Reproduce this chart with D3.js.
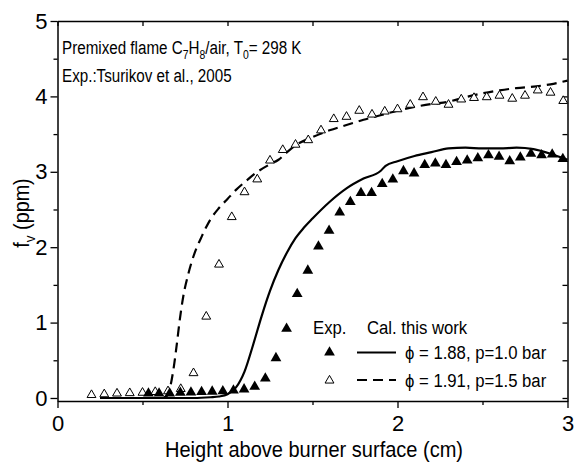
<!DOCTYPE html>
<html><head><meta charset="utf-8">
<script src="https://cdn.jsdelivr.net/npm/d3@7"></script>
<style>body{margin:0;background:#fff;}svg{display:block;font-family:"Liberation Sans",Arial,sans-serif;}</style>
</head><body><svg id="c" width="574" height="463"></svg>
<script>
// Experimental data, phi=1.88, p=1.0 bar (filled triangles)
const expFilledX = [0.535,0.5975,0.66,0.7225,0.785,0.8475,0.91,0.9725,1.035,1.0975,1.16,1.2225,1.285,1.3475,1.41,1.4725,1.535,1.5975,1.66,1.7225,1.785,1.8475,1.91,1.9725,2.035,2.0975,2.16,2.2225,2.285,2.3475,2.41,2.4725,2.535,2.5975,2.66,2.7225,2.785,2.8475,2.91,2.9725];
const expFilledY = [0.06,0.06,0.06,0.07,0.075,0.08,0.085,0.09,0.10,0.115,0.15,0.26,0.53,0.92,1.38,1.69,2.01,2.22,2.46,2.60,2.72,2.72,2.84,2.90,3.01,2.98,3.09,3.11,3.09,3.13,3.15,3.18,3.22,3.20,3.14,3.19,3.24,3.22,3.23,3.17];
// Experimental data, phi=1.91, p=1.5 bar (open triangles)
const expOpenX = [0.2,0.275,0.35,0.425,0.5,0.575,0.65,0.725,0.8,0.875,0.95,1.025,1.1,1.175,1.25,1.325,1.4,1.475,1.55,1.625,1.7,1.775,1.85,1.925,2.0,2.075,2.15,2.225,2.3,2.375,2.45,2.525,2.6,2.675,2.75,2.825,2.9,2.975];
const expOpenY = [0.04,0.05,0.06,0.065,0.07,0.08,0.09,0.12,0.33,1.08,1.77,2.40,2.73,2.90,3.15,3.29,3.36,3.42,3.55,3.70,3.73,3.81,3.76,3.80,3.83,3.89,3.99,3.93,3.89,3.96,3.98,3.99,4.01,3.97,4.01,4.08,4.05,3.94];
// Calculation, phi=1.88 (solid)
const calSolidX = [0.25,0.5,0.8,0.9,0.95,1.0,1.05,1.1,1.15,1.2,1.25,1.3,1.35,1.4,1.45,1.5,1.6,1.7,1.8,1.9,1.93,2.0,2.1,2.2,2.3,2.4,2.5,2.6,2.7,2.8,2.9,3.0];
const calSolidY = [0,0,0,0.01,0.02,0.05,0.14,0.35,0.70,1.08,1.42,1.70,1.93,2.12,2.26,2.38,2.60,2.78,2.91,3.01,3.08,3.14,3.21,3.26,3.31,3.32,3.31,3.31,3.32,3.30,3.24,3.16];
// Calculation, phi=1.91 (dashed)
const calDashX = [0.25,0.6,0.64,0.66,0.68,0.70,0.72,0.74,0.77,0.80,0.85,0.90,0.95,1.0,1.05,1.1,1.17,1.25,1.3,1.35,1.4,1.5,1.6,1.7,1.8,1.9,2.0,2.1,2.2,2.3,2.4,2.5,2.6,2.7,2.8,2.9,3.0];
const calDashY = [0,0,0.02,0.12,0.35,0.68,1.05,1.35,1.65,1.88,2.15,2.37,2.52,2.64,2.76,2.86,2.99,3.10,3.16,3.26,3.35,3.46,3.55,3.62,3.69,3.75,3.81,3.86,3.90,3.93,3.99,4.04,4.08,4.11,4.13,4.16,4.21];
const xTicks = [0,1,2,3];
const xMinor = [0.5,1.5,2.5];
const yTicks = [0,1,2,3,4,5];
const yMinor = [0.5,1.5,2.5,3.5,4.5];

const svg = d3.select("#c");
const L=57.5, R=567.5, T=21, B=401;
const x = d3.scaleLinear().domain([0,3]).range([L,R]);
const y = d3.scaleLinear().domain([-0.04,5]).range([B,T]);
const zip = (a,b)=>a.map((v,i)=>[v,b[i]]);
const FONT = "Liberation Sans, Arial, sans-serif";

function ctext(px, py, size, sx, anchor){
  return svg.append("text").attr("transform",`translate(${px},${py}) scale(${sx},1)`)
    .attr("font-size",size).attr("font-family",FONT).attr("text-anchor",anchor||"start").attr("fill","#000");
}

// axes
const g = svg.append("g");
function axisStyle(sel){ sel.select(".domain").attr("stroke","#000").attr("stroke-width",1.5); sel.selectAll(".tick line").attr("stroke","#000").attr("stroke-width",1.3); sel.selectAll("text").attr("font-size",22).attr("fill","#000").attr("font-family",FONT); }
const xb = g.append("g").attr("transform",`translate(0,${B})`).call(d3.axisBottom(x).tickValues(xTicks).tickFormat(d3.format("d")).tickSizeInner(7).tickSizeOuter(0).tickPadding(7));
axisStyle(xb);
g.append("g").attr("transform",`translate(0,${B})`).call(d3.axisBottom(x).tickValues(xMinor).tickFormat("").tickSizeInner(4).tickSizeOuter(0)).call(s=>{s.select(".domain").remove();s.selectAll("line").attr("stroke","#000").attr("stroke-width",1.3);});
const yl = g.append("g").attr("transform",`translate(${L},0)`).call(d3.axisLeft(y).tickValues(yTicks).tickFormat(d3.format("d")).tickSizeInner(7).tickSizeOuter(0).tickPadding(3));
axisStyle(yl);
g.append("g").attr("transform",`translate(${L},0)`).call(d3.axisLeft(y).tickValues(yMinor).tickFormat("").tickSizeInner(4).tickSizeOuter(0)).call(s=>{s.select(".domain").remove();s.selectAll("line").attr("stroke","#000").attr("stroke-width",1.3);});
// top & right inward
const xt = g.append("g").attr("transform",`translate(0,${T})`).call(d3.axisBottom(x).tickValues(xTicks.concat(xMinor)).tickFormat("").tickSizeInner(5).tickSizeOuter(0));
xt.select(".domain").attr("stroke","#000").attr("stroke-width",1.5); xt.selectAll("line").attr("stroke","#000").attr("stroke-width",1.3);
const yr = g.append("g").attr("transform",`translate(${R},0)`).call(d3.axisLeft(y).tickValues(yTicks.concat(yMinor)).tickFormat("").tickSizeInner(5).tickSizeOuter(0));
yr.select(".domain").attr("stroke","#000").attr("stroke-width",1.5); yr.selectAll("line").attr("stroke","#000").attr("stroke-width",1.3);

// lines
const line = d3.line().x(d=>x(d[0])).y(d=>y(d[1])).curve(d3.curveMonotoneX);
svg.append("path").datum(zip(calSolidX,calSolidY)).attr("d",line).attr("fill","none").attr("stroke","#000").attr("stroke-width",2.2);
svg.append("path").datum(zip(calDashX,calDashY)).attr("d",line).attr("fill","none").attr("stroke","#000").attr("stroke-width",2.2).attr("stroke-dasharray","10,6");

// markers
const triF = d3.symbol().type(d3.symbolTriangle).size(50);
const triO = d3.symbol().type(d3.symbolTriangle).size(34);
svg.append("g").selectAll("path").data(zip(expOpenX,expOpenY)).join("path")
  .attr("d",triO).attr("transform",d=>`translate(${x(d[0])},${y(d[1])})`).attr("fill","#fff").attr("stroke","#000").attr("stroke-width",1);
svg.append("g").selectAll("path").data(zip(expFilledX,expFilledY)).join("path")
  .attr("d",triF).attr("transform",d=>`translate(${x(d[0])},${y(d[1])})`).attr("fill","#000");

// annotation text
const t1 = ctext(62,54,19,0.8);
t1.append("tspan").text("Premixed flame C");
t1.append("tspan").attr("font-size",13).attr("dy",5).text("7");
t1.append("tspan").attr("dy",-5).text("H");
t1.append("tspan").attr("font-size",13).attr("dy",5).text("8");
t1.append("tspan").attr("dy",-5).text("/air, T");
t1.append("tspan").attr("font-size",13).attr("dy",5).text("0");
t1.append("tspan").attr("dy",-5).text("= 298 K");
ctext(62,81.5,19,0.8).text("Exp.:Tsurikov et al., 2005");

// axis labels
ctext(314,457,22,0.91,"middle").text("Height above burner surface (cm)");
const yt = svg.append("text").attr("transform","translate(29,213) rotate(-90) scale(0.9,1)").attr("text-anchor","middle").attr("font-size",22).attr("font-family",FONT);
yt.append("tspan").text("f");
yt.append("tspan").attr("font-size",15).attr("dy",6).text("v");
yt.append("tspan").attr("dy",-6).text(" (ppm)");

// legend
ctext(313,334,19,0.88).text("Exp.");
ctext(367,334,19,0.88).text("Cal. this work");
svg.append("path").attr("d",triF).attr("transform","translate(329.5,352.5)").attr("fill","#000");
svg.append("path").attr("d",triO).attr("transform","translate(329.5,380.5)").attr("fill","#fff").attr("stroke","#000");
svg.append("line").attr("x1",357).attr("x2",396).attr("y1",352.5).attr("y2",352.5).attr("stroke","#000").attr("stroke-width",2.2);
svg.append("line").attr("x1",357).attr("x2",396).attr("y1",380).attr("y2",380).attr("stroke","#000").attr("stroke-width",2.2).attr("stroke-dasharray","10,6");
ctext(405,358.5,19,0.88).text("\u03d5 = 1.88, p=1.0 bar");
ctext(405,386.5,19,0.88).text("\u03d5 = 1.91, p=1.5 bar");
</script></body></html>
